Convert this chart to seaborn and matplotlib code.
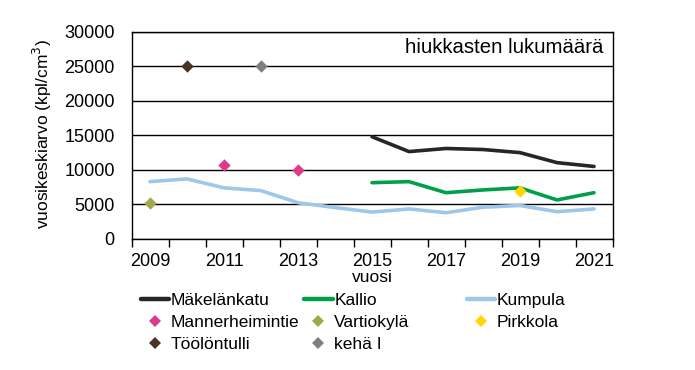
import numpy as np
import pandas as pd
import matplotlib
matplotlib.use("Agg")
import matplotlib.pyplot as plt
import seaborn as sns
from matplotlib.lines import Line2D

sns.set_style("white")
plt.rcParams['font.family'] = ['Liberation Sans', 'DejaVu Sans']
plt.rcParams['text.color'] = 'black'
plt.rcParams['xtick.color'] = 'black'
plt.rcParams['ytick.color'] = 'black'
plt.rcParams['axes.labelcolor'] = 'black'

# ---- data ----
years = list(range(2009, 2022))
mak_years = [2015, 2016, 2017, 2018, 2019, 2020, 2021]
makelankatu = [14800, 12650, 13100, 12950, 12500, 11050, 10500]
kallio_years = [2015, 2016, 2017, 2018, 2019, 2020, 2021]
kallio = [8150, 8300, 6700, 7100, 7400, 5650, 6700]
kumpula_years = years
kumpula = [8300, 8700, 7400, 7000, 5250, 4550, 3900, 4350, 3800, 4600, 4850, 3950, 4350]
mannerheimintie_years = [2011, 2013]
mannerheimintie = [10650, 9950]
vartiokyla_years = [2009]
vartiokyla = [5200]
pirkkola_years = [2019]
pirkkola = [6900]
toolontulli_years = [2010]
toolontulli = [25000]
keha_years = [2012]
keha = [25000]

tick_years = [2009, 2011, 2013, 2015, 2017, 2019, 2021]
tick_labels = [str(y) for y in tick_years]
yticks = [0, 5000, 10000, 15000, 20000, 25000, 30000]

line_series = [
    ("Mäkelänkatu", mak_years, makelankatu, "#262626"),
    ("Kallio", kallio_years, kallio, "#00a04b"),
    ("Kumpula", kumpula_years, kumpula, "#9dc8ea"),
]
point_series = [
    ("Mannerheimintie", mannerheimintie_years, mannerheimintie, "#de3a8c"),
    ("Vartiokylä", vartiokyla_years, vartiokyla, "#a4a84c"),
    ("Pirkkola", pirkkola_years, pirkkola, "#ffd700"),
    ("Töölöntulli", toolontulli_years, toolontulli, "#4b3224"),
    ("kehä I", keha_years, keha, "#7f7f7f"),
]

W, H = 695, 370
fig = plt.figure(figsize=(W / 100, H / 100), dpi=100)
ax = fig.add_axes([131.5 / W, 1 - 239 / H, (612.5 - 131.5) / W, (239 - 31.7) / H])

for y in yticks:
    ax.axhline(y, color="black", lw=1.0, zorder=1)

lw = 2.6
for name, xs, ys, c in line_series:
    df = pd.DataFrame({"x": xs, "y": ys})
    sns.lineplot(data=df, x="x", y="y", ax=ax, color=c, lw=lw, zorder=3, legend=False)
for name, xs, ys, c in point_series:
    df = pd.DataFrame({"x": xs, "y": ys})
    sns.scatterplot(data=df, x="x", y="y", ax=ax, color=c, marker="D", s=40,
                    linewidth=0, zorder=4, legend=False)

ax.set_xlim(2008.5, 2021.5)
ax.set_ylim(0, 30000)
ax.set_xticks(tick_years, tick_labels)
ax.set_xticks(np.arange(2008.5, 2022, 1.0), minor=True)
ax.tick_params(axis="x", which="both", bottom=True)
ax.tick_params(axis="x", which="major", length=0, pad=10, labelsize=13)
ax.tick_params(axis="x", which="minor", length=6, width=1, color="black", direction="out")
ax.set_yticks(yticks, [str(v) for v in yticks])
ax.tick_params(axis="y", length=0, pad=12, labelsize=13)
for sp in ax.spines.values():
    sp.set_color("black")
    sp.set_linewidth(1.0)
ax.set_xlabel("")
ax.set_ylabel("")

fig.text(42 / W, 1 - 134 / H, "vuosikeskiarvo (kpl/cm$^3$)", rotation=90,
         ha="center", va="center", fontsize=12.5)
fig.text(372 / W, 1 - 277 / H, "vuosi", ha="center", va="center", fontsize=12.5)
ax.text(0.98, 0.925, "hiukkasten lukumäärä", transform=ax.transAxes,
        ha="right", va="center", fontsize=14.7)

handles = {}
for name, xs, ys, c in line_series:
    handles[name] = Line2D([], [], color=c, lw=3.2)
for name, xs, ys, c in point_series:
    handles[name] = Line2D([], [], color=c, lw=0, marker="D", markersize=6.2,
                           markeredgewidth=0)

columns = [
    (140.7, ["Mäkelänkatu", "Mannerheimintie", "Töölöntulli"]),
    (304.0, ["Kallio", "Vartiokylä", "kehä I"]),
    (466.7, ["Kumpula", "Pirkkola"]),
]
for x0, names in columns:
    fig.legend([handles[n] for n in names], names, loc="upper left",
               bbox_to_anchor=(x0 / W, 1 - 293 / H), frameon=False, fontsize=12.5,
               handlelength=1.65, handletextpad=0.1, borderpad=0, borderaxespad=0,
               labelspacing=0.38)

fig.savefig("out.png", dpi=100)
